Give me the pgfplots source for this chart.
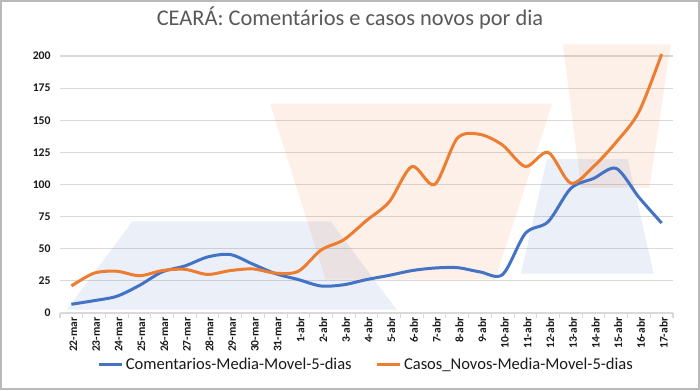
\documentclass[border=0pt]{standalone}
\usepackage{fontspec}
\setmainfont{Carlito}
\usepackage{pgfplots}
\pgfplotsset{compat=1.18}
\definecolor{cblue}{HTML}{4472C4}
\definecolor{corange}{HTML}{ED7D31}
\definecolor{gridc}{HTML}{D9D9D9}
\definecolor{titlec}{HTML}{595959}
\definecolor{txtc}{HTML}{1A1A1A}
\begin{document}
\begin{tikzpicture}[x=1pt,y=1pt]
\fill[white] (0,0) rectangle (525,292.5);
\draw[gray!55, line width=1.2pt] (0.6,0.6) rectangle (524.4,291.9);
\node[text=titlec, font=\fontsize{16.8}{20}\selectfont] at (262.5,279) {CEARÁ: Comentários e casos novos por dia};
\begin{axis}[
  at={(45pt,57.75pt)}, anchor=south west,
  scale only axis, width=459.75pt, height=192.75pt,
  xmin=-0.5, xmax=26.5, ymin=0, ymax=200,
  clip=false,
  axis lines*=left,
  y axis line style={draw=none},
  x axis line style={gridc, line width=0.8pt},
  ymajorgrids, grid style={gridc, line width=0.8pt},
  ytick={0,25,...,200},
  xtick={0,...,26},
  xticklabels={22-mar,23-mar,24-mar,25-mar,26-mar,27-mar,28-mar,29-mar,30-mar,31-mar,1-abr,2-abr,3-abr,4-abr,5-abr,6-abr,7-abr,8-abr,9-abr,10-abr,11-abr,12-abr,13-abr,14-abr,15-abr,16-abr,17-abr},
  minor xtick={-0.5,0.5,...,26.5},
  major tick length=0pt,
  minor tick length=3.5pt,
  tick align=outside,
  minor tick style={gridc, line width=0.8pt},
  x tick label style={rotate=90, anchor=east, text=txtc, font=\bfseries\fontsize{8.6}{10}\selectfont, yshift=-1.5pt},
  y tick label style={text=txtc, font=\bfseries\fontsize{8.8}{10}\selectfont, xshift=-3.5pt},
  /pgf/number format/assume math mode=true,
  legend columns=2,
  legend style={draw=none, fill=none, at={(0.5,-0.202)}, anchor=center,
    font=\fontsize{12.4}{14}\selectfont, text=txtc,
    /tikz/every even column/.append style={column sep=16pt}},
  legend image code/.code={\draw[#1, line width=2.25pt] (0pt,0pt) -- (17pt,0pt);},
]
\fill[cblue, fill opacity=0.11] (axis cs:-0.2,2.6) -- (axis cs:2.69,71.4) -- (axis cs:11.42,71.4) -- (axis cs:14.32,2.6) -- cycle;
\fill[corange, fill opacity=0.11] (axis cs:8.75,163) -- (axis cs:21.18,163) -- (axis cs:18.66,26) -- (axis cs:11.2,26) -- cycle;
\fill[cblue, fill opacity=0.11] (axis cs:20.95,119.7) -- (axis cs:24.5,119.7) -- (axis cs:25.65,30.6) -- (axis cs:19.8,30.6) -- cycle;
\fill[corange, fill opacity=0.11] (axis cs:21.65,209) -- (axis cs:26.4,209) -- (axis cs:25.46,97.4) -- (axis cs:22.45,97.4) -- cycle;
\addplot[cblue, line width=2.25pt, smooth, tension=0.5] coordinates {
(0,6.8) (1,9.6) (2,13) (3,21.5) (4,32) (5,36.6) (6,43.6) (7,45.5) (8,38) (9,30.6)
(10,26) (11,21) (12,22) (13,26) (14,29.3) (15,33) (16,35) (17,35.3) (18,32) (19,30)
(20,62) (21,71) (22,97) (23,104.7) (24,112.5) (25,90) (26,70)};
\addlegendentry{Comentarios-Media-Movel-5-dias}
\addplot[corange, line width=2.25pt, smooth, tension=0.5] coordinates {
(0,21) (1,31) (2,32.5) (3,29) (4,33) (5,34) (6,30) (7,33) (8,34.3) (9,31)
(10,32.5) (11,49) (12,57) (13,72) (14,86.5) (15,114) (16,100) (17,136) (18,139) (19,130.6)
(20,114) (21,125) (22,101) (23,114) (24,133) (25,156.6) (26,201.5)};
\addlegendentry{Casos\_Novos-Media-Movel-5-dias}
\end{axis}
\end{tikzpicture}
\end{document}
